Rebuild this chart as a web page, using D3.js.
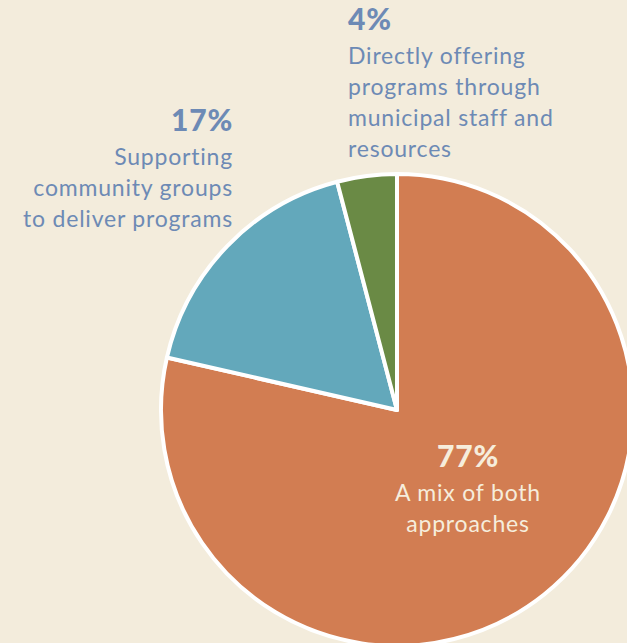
<!DOCTYPE html>
<html><head><meta charset="utf-8">
<script src="https://cdn.jsdelivr.net/npm/d3@7"></script>
<style>
html,body{margin:0;padding:0;background:#f3ecdc;}
svg{display:block;}
</style></head>
<body>
<svg id="chart" width="627" height="643"></svg>
<script>
const categories = ["A mix of both approaches", "Supporting community groups to deliver programs", "Directly offering programs through municipal staff and resources"];
const values = [77, 17, 4];
const pctLabels = ["77%", "17%", "4%"];
const colors = ["#d27d52", "#63a8bb", "#6a8a45"];

const svg = d3.select("#chart");
const W = 627, H = 643;
svg.append("rect").attr("width", W).attr("height", H).attr("fill", "#f3ecdc");

const cx = 397, cy = 410, r = 236;
const pie = d3.pie().sort(null).value(d => d)(values);
const arc = d3.arc().innerRadius(0).outerRadius(r);
const g = svg.append("g").attr("transform", `translate(${cx},${cy})`);
g.selectAll("path").data(pie).join("path")
  .attr("d", arc)
  .attr("fill", (d, i) => colors[i])
  .attr("stroke", "#ffffff")
  .attr("stroke-width", 4)
  .attr("stroke-linejoin", "round");

const font = "Lato, 'Open Sans', sans-serif";
const textBlue = "#6d8ab5";
const cream = "#f6eddc";

function block(x, y, anchor, pct, lines, fill, lh) {
  const t = svg.append("g").attr("font-family", font).attr("fill", fill).attr("text-anchor", anchor);
  t.append("text").attr("x", x).attr("y", y).attr("font-size", 30).attr("font-weight", 900)
    .attr("letter-spacing", 0.8).text(pct);
  lines.forEach((l, i) => {
    t.append("text").attr("x", x).attr("y", y + 34 + i * lh).attr("font-size", 23).attr("font-weight", 400)
      .attr("letter-spacing", 0.8).text(l);
  });
}
block(233, 131, "end", pctLabels[1], ["Supporting", "community groups", "to deliver programs"], textBlue, 31);
block(348, 30, "start", pctLabels[2], ["Directly offering", "programs through", "municipal staff and", "resources"], textBlue, 31);
block(468, 467, "middle", pctLabels[0], ["A mix of both", "approaches"], cream, 31);
</script>
</body></html>
